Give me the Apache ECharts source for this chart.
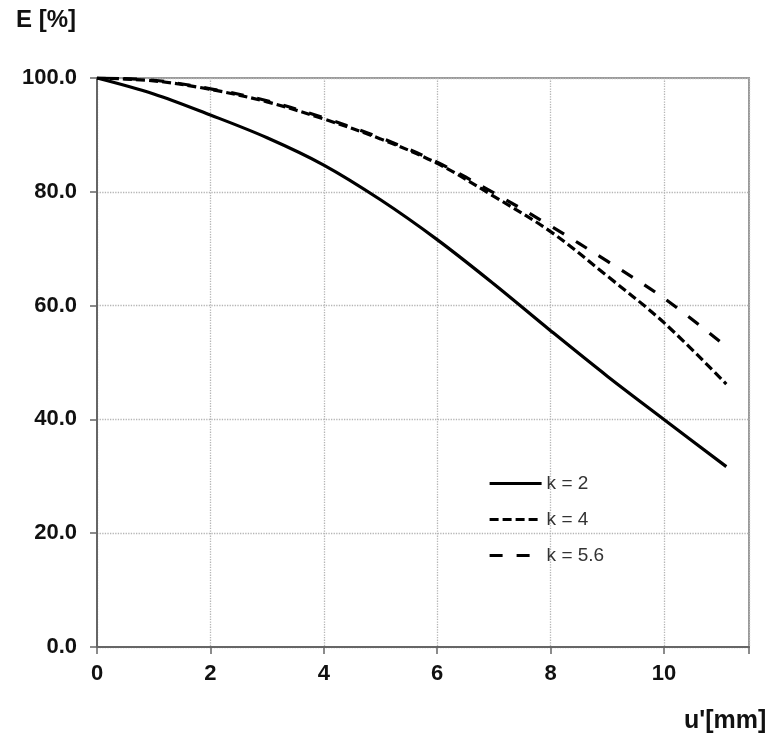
<!DOCTYPE html>
<html>
<head>
<meta charset="utf-8">
<script src="https://cdn.jsdelivr.net/npm/echarts@6/dist/echarts.min.js"></script>
<style>html,body{margin:0;padding:0;background:#fff}#c{width:780px;height:748px}</style>
</head>
<body>
<div id="c"></div>
<script>
const uValues = [0, 1, 2, 3, 4, 5, 6, 7, 8, 9, 10, 11.1];
const k2 = [100, 97.2, 93.5, 89.5, 84.7, 78.6, 71.6, 63.8, 55.6, 47.6, 40.0, 31.7];
const k4 = [100, 99.5, 98.0, 95.8, 92.8, 89.3, 85.0, 79.2, 73.0, 65.2, 57.0, 46.2];
const k56 = [100, 99.6, 98.1, 96.0, 93.0, 89.5, 85.2, 79.8, 74.0, 67.8, 61.3, 52.8];
const seriesNames = ['k = 2', 'k = 4', 'k = 5.6'];
const xTicks = [0, 2, 4, 6, 8, 10];
const yTicks = [0, 20, 40, 60, 80, 100];

function pairs(ys) { return uValues.map((u, i) => [u, ys[i]]); }

const chart = echarts.init(document.getElementById('c'));
const font = 'Liberation Sans, Arial, sans-serif';
chart.setOption({
  animation: false,
  backgroundColor: '#fff',
  color: ['#000', '#000', '#000'],
  grid: { left: 97, right: 31, top: 78, bottom: 101, show: true, borderColor: '#999', borderWidth: 2, backgroundColor: 'transparent' },
  xAxis: {
    type: 'value', min: 0, max: 11.5, interval: 2,
    axisLine: { show: true, onZero: false, lineStyle: { color: '#666', width: 2 } },
    axisTick: { show: true, length: 7, lineStyle: { color: '#666', width: 1.5 } },
    axisLabel: { color: '#111', fontFamily: font, fontWeight: 'bold', fontSize: 22, margin: 16,
      formatter: v => xTicks.includes(v) ? String(v) : '' },
    splitLine: { show: true, lineStyle: { color: '#b5b5b5', type: 'dotted', width: 1.3 } }
  },
  yAxis: {
    type: 'value', min: 0, max: 100, interval: 20,
    axisLine: { show: true, lineStyle: { color: '#666', width: 2 } },
    axisTick: { show: true, length: 7, lineStyle: { color: '#666', width: 1.5 } },
    axisLabel: { color: '#111', fontFamily: font, fontWeight: 'bold', fontSize: 22, margin: 20,
      formatter: v => yTicks.includes(v) ? v.toFixed(1) : '' },
    splitLine: { show: true, lineStyle: { color: '#b5b5b5', type: 'dotted', width: 1.3 } }
  },
  legend: {
    orient: 'vertical', left: 483, top: 469, itemWidth: 52, itemHeight: 18, itemGap: 17,
    itemStyle: { opacity: 0 },
    lineStyle: { width: 3.2, color: '#000' },
    textStyle: { color: '#333', fontFamily: font, fontSize: 19, lineHeight: 18 },
    data: seriesNames
  },
  graphic: [
    { type: 'text', left: 16, top: 8, style: { text: 'E [%]', font: 'bold 24px ' + font, fill: '#111' } },
    { type: 'text', left: 684, top: 709, style: { text: "u'[mm]", font: 'bold 25px ' + font, fill: '#111' } }
  ],
  series: [
    { name: seriesNames[0], type: 'line', smooth: 0.35, symbol: 'none', data: pairs(k2),
      itemStyle: { color: '#000' }, lineStyle: { color: '#000', width: 3.2, type: 'solid' } },
    { name: seriesNames[1], type: 'line', smooth: 0.35, symbol: 'none', data: pairs(k4),
      itemStyle: { color: '#000' }, lineStyle: { color: '#000', width: 3.2, type: [9, 4] } },
    { name: seriesNames[2], type: 'line', smooth: 0.35, symbol: 'none', data: pairs(k56),
      itemStyle: { color: '#000' }, lineStyle: { color: '#000', width: 3.2, type: [13, 14] } }
  ]
});
</script>
</body>
</html>
